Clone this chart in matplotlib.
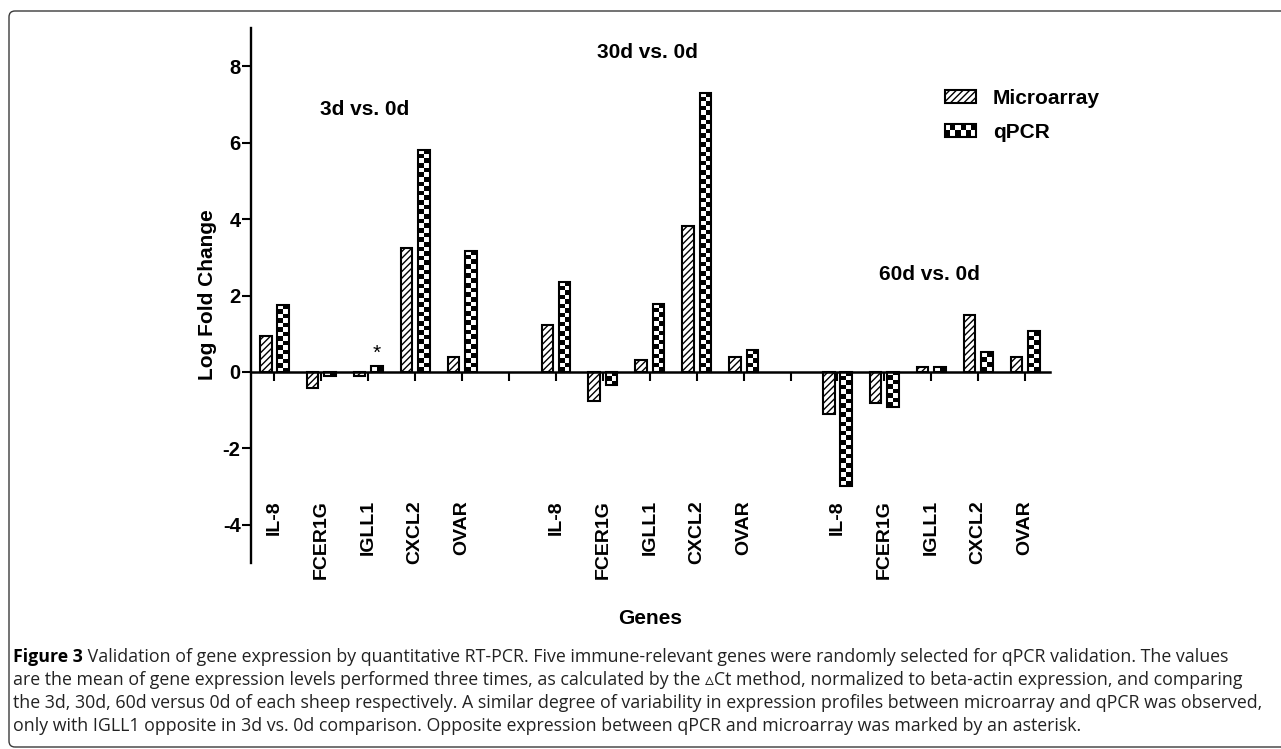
import matplotlib
matplotlib.use("Agg")
import matplotlib.pyplot as plt
import numpy as np
from matplotlib.patches import Rectangle, Patch, FancyBboxPatch
from matplotlib.legend_handler import HandlerBase

# ---- data ----
genes = ["IL-8", "FCER1G", "IGLL1", "CXCL2", "OVAR"]
comparisons = ["3d vs. 0d", "30d vs. 0d", "60d vs. 0d"]
group_start = [0, 6, 12]          # slot index of first gene in each group
microarray = [
    [0.93, -0.41, -0.11, 3.23, 0.38],
    [1.22, -0.76, 0.30, 3.82, 0.39],
    [-1.10, -0.80, 0.14, 1.48, 0.38],
]
qpcr = [
    [1.75, -0.10, 0.15, 5.82, 3.17],
    [2.36, -0.33, 1.79, 7.31, 0.585],
    [-2.99, -0.93, 0.13, 0.52, 1.07],
]
label_pos = [(1.92, 6.86), (7.95, 8.36), (13.95, 2.54)]
asterisk = (0, 2)  # group, gene index marked as opposite

plt.rcParams["font.family"] = ["Liberation Sans", "DejaVu Sans"]
plt.rcParams["hatch.linewidth"] = 1.0
plt.rcParams["axes.unicode_minus"] = False

W, H = 1281, 749
fig = plt.figure(figsize=(W / 100, H / 100), dpi=100, facecolor="white")
ax = fig.add_axes([251 / W, 1 - 563 / H, (1050 - 251) / W, 535 / H])
xlim = (-0.5, 16.53)
ylim = (-5.0, 9.0)
ax.set_xlim(*xlim)
ax.set_ylim(*ylim)

bw = 0.245
off = 0.185
lw_bar = 1.5

# pixels per data unit, for the checker texture
p0 = ax.transData.transform((0, 0))
p1 = ax.transData.transform((1, 1))
ppu_x, ppu_y = p1[0] - p0[0], p1[1] - p0[1]
cell = 4.6

for g, start in enumerate(group_start):
    xs = np.arange(start, start + len(genes))
    ax.bar(xs - off, microarray[g], width=bw, facecolor="white", edgecolor="black",
           hatch="/////", linewidth=lw_bar, zorder=3)
    bars = ax.bar(xs + off, qpcr[g], width=bw, fill=False, edgecolor="black",
                  linewidth=lw_bar, zorder=4)
    for b, v in zip(bars, qpcr[g]):
        x0 = b.get_x()
        ncol = max(1, int(round(bw * ppu_x / cell)))
        nrow = max(1, int(round(abs(v) * ppu_y / cell)))
        ii, jj = np.meshgrid(np.arange(ncol), np.arange(nrow))
        arr = ((ii + jj) % 2).astype(float)
        ax.imshow(arr, extent=(x0, x0 + bw, min(0, v), max(0, v)), cmap="gray_r",
                  vmin=0, vmax=1, interpolation="nearest", aspect="auto", zorder=3)
    for i, gene in enumerate(genes):
        ax.text(start + i, -3.35, gene, rotation=90, ha="center", va="top",
                fontsize=14, fontweight="bold")
    ax.text(label_pos[g][0], label_pos[g][1], comparisons[g], ha="center", va="center",
            fontsize=15, fontweight="bold")

ga, gi = asterisk
ax.text(group_start[ga] + gi + off, qpcr[ga][gi] + 0.1, "*", ha="center", va="bottom",
        fontsize=15)

ax.set_xlim(*xlim)
ax.set_ylim(*ylim)

# axes styling
for s in ["top", "right"]:
    ax.spines[s].set_visible(False)
ax.spines["bottom"].set_position(("data", 0))
ax.spines["bottom"].set_linewidth(1.8)
ax.spines["left"].set_linewidth(1.7)
ax.spines["bottom"].set_zorder(5)
ax.set_xticks(np.arange(0, 17))
ax.set_yticks(np.arange(-4, 9, 2))
ax.tick_params(axis="x", direction="out", length=6.5, width=1.5, labelbottom=False)
ax.tick_params(axis="y", direction="out", length=6.5, width=1.5, pad=1, labelsize=14.5)
for t in ax.get_yticklabels():
    t.set_fontweight("bold")
ax.set_facecolor("white")

fig.text(207 / W, 1 - 295 / H, "Log Fold Change", rotation=90, ha="center", va="center",
         fontsize=15, fontweight="bold")
fig.text(650 / W, 1 - 618 / H, "Genes", ha="center", va="center",
         fontsize=15, fontweight="bold")


# legend with a checkerboard swatch for qPCR
class CheckerHandler(HandlerBase):
    def create_artists(self, legend, orig_handle, xdescent, ydescent, width, height,
                       fontsize, trans):
        x0, y0 = -xdescent, -ydescent
        arts = [Rectangle((x0, y0), width, height, facecolor="white", lw=0, transform=trans)]
        ncol, nrow = 6, 2
        cw, ch = width / ncol, height / nrow
        for i in range(ncol):
            for j in range(nrow):
                if (i + j) % 2 == 0:
                    arts.append(Rectangle((x0 + i * cw, y0 + j * ch), cw, ch,
                                          facecolor="black", lw=0, transform=trans))
        arts.append(Rectangle((x0, y0), width, height, fill=False, edgecolor="black",
                              lw=lw_bar, transform=trans))
        return arts


h_micro = Patch(facecolor="white", edgecolor="black", hatch="/////", linewidth=lw_bar)
h_qpcr = Patch(facecolor="white", edgecolor="black")
fig.legend([h_micro, h_qpcr], ["Microarray", "qPCR"], handler_map={h_qpcr: CheckerHandler()},
           loc="upper left", bbox_to_anchor=(945 / W, 1 - 89 / H), frameon=False,
           borderpad=0, borderaxespad=0, handlelength=1.5, handleheight=0.6,
           handletextpad=0.8, labelspacing=0.7, prop={"weight": "bold", "size": 15})

# rounded frame around the figure panel
frame = FancyBboxPatch((9 / 100, 2 / 100), 13.2, (H - 11 - 2) / 100,
                       boxstyle="round,pad=0,rounding_size=0.06",
                       transform=fig.dpi_scale_trans, fill=False,
                       edgecolor="#3a3a3a", linewidth=1.0)
fig.patches.append(frame)

# caption
cap_font = ["Open Sans", "DejaVu Sans"]
cap_size = 12.8
lines = [
    " Validation of gene expression by quantitative RT-PCR. Five immune-relevant genes were randomly selected for qPCR validation. The values",
    "are the mean of gene expression levels performed three times, as calculated by the \u25b5Ct method, normalized to beta-actin expression, and comparing",
    "the 3d, 30d, 60d versus 0d of each sheep respectively. A similar degree of variability in expression profiles between microarray and qPCR was observed,",
    "only with IGLL1 opposite in 3d vs. 0d comparison. Opposite expression between qPCR and microarray was marked by an asterisk.",
]
line_y = [657, 680, 703, 726]
x_cap = 13 / W
lbl = fig.text(x_cap, 1 - line_y[0] / H, "Figure 3", family=cap_font, fontsize=cap_size,
               fontweight="bold", va="center", ha="left")
fig.canvas.draw()
bb = lbl.get_window_extent()
fig.text(bb.x1 / W, 1 - line_y[0] / H, lines[0], family=cap_font, fontsize=cap_size,
         va="center", ha="left", color="#222222")
for txt, yy in zip(lines[1:], line_y[1:]):
    fig.text(x_cap, 1 - yy / H, txt, family=cap_font, fontsize=cap_size,
             va="center", ha="left", color="#222222")

fig.savefig("out.png", dpi=100, facecolor="white")
